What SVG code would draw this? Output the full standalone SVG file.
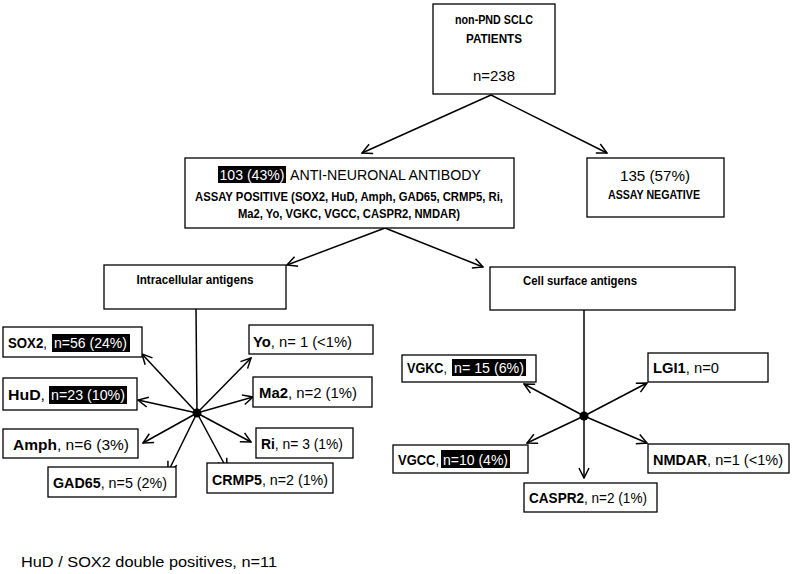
<svg xmlns="http://www.w3.org/2000/svg" width="794" height="574" viewBox="0 0 794 574">
<defs>
<style>
.box{fill:#fff;stroke:#000;stroke-width:1.3}
.t{font-family:"Liberation Sans",Arial,sans-serif;font-size:15px;fill:#000}
.b{font-weight:bold}
.h{font-size:12.5px;font-weight:bold}
.w{fill:#fff}
.hl{fill:#000}
.c line{stroke:#000;stroke-width:1.5}
.arr{marker-end:url(#ah)}
</style>
<marker id="ah" viewBox="0 0 12 12" refX="11" refY="6" markerWidth="12" markerHeight="12" markerUnits="userSpaceOnUse" orient="auto">
<path d="M1,1 L11,6 L1,11" fill="none" stroke="#000" stroke-width="1.5"/>
</marker>
</defs>
<rect width="794" height="574" fill="#fff"/>

<g class="c" id="connectors">
<line class="arr" x1="491" y1="95" x2="362" y2="153"/>
<line class="arr" x1="491" y1="95" x2="607" y2="153"/>
<line class="arr" x1="385" y1="228" x2="287" y2="265"/>
<line class="arr" x1="385" y1="228" x2="483" y2="267"/>
<line x1="196" y1="309" x2="197" y2="413"/>
<line class="arr" x1="197" y1="413" x2="142" y2="354"/>
<line class="arr" x1="197" y1="413" x2="138" y2="400"/>
<line class="arr" x1="197" y1="413" x2="143" y2="443"/>
<line class="arr" x1="197" y1="413" x2="168" y2="472"/>
<line class="arr" x1="197" y1="413" x2="227" y2="469"/>
<line class="arr" x1="197" y1="413" x2="251" y2="442"/>
<line class="arr" x1="197" y1="413" x2="253" y2="397"/>
<line class="arr" x1="197" y1="413" x2="251" y2="358"/>
<circle cx="197" cy="413" r="4.5" fill="#000"/>
<line class="arr" x1="584" y1="310" x2="584" y2="478"/>
<line class="arr" x1="584" y1="416" x2="524" y2="384"/>
<line class="arr" x1="584" y1="416" x2="647" y2="383"/>
<line class="arr" x1="584" y1="416" x2="527" y2="443"/>
<line class="arr" x1="584" y1="416" x2="647" y2="443"/>
<circle cx="584" cy="416" r="4.5" fill="#000"/>
</g>

<g id="top">
<rect class="box" x="433" y="4" width="122" height="90"/>
<text class="t h" x="494" y="24" text-anchor="middle" textLength="78" lengthAdjust="spacingAndGlyphs">non-PND SCLC</text>
<text class="t h" x="494" y="43" text-anchor="middle" textLength="56" lengthAdjust="spacingAndGlyphs">PATIENTS</text>
<text class="t" x="494" y="81" text-anchor="middle" font-size="15.5" textLength="42" lengthAdjust="spacingAndGlyphs">n=238</text>
</g>

<g id="positive">
<rect class="box" x="185" y="158" width="329" height="70"/>
<rect class="hl" x="218" y="166" width="68" height="17"/>
<text class="t" y="180" font-size="16"><tspan class="w" x="219.5" textLength="65" lengthAdjust="spacingAndGlyphs">103 (43%)</tspan><tspan x="290" textLength="191" lengthAdjust="spacingAndGlyphs">ANTI-NEURONAL ANTIBODY</tspan></text>
<text class="t h" x="349" y="201" text-anchor="middle" textLength="308" lengthAdjust="spacingAndGlyphs">ASSAY POSITIVE (SOX2, HuD, Amph, GAD65, CRMP5, Ri,</text>
<text class="t h" x="349" y="218" text-anchor="middle" textLength="222" lengthAdjust="spacingAndGlyphs">Ma2, Yo, VGKC, VGCC, CASPR2, NMDAR)</text>
</g>

<g id="negative">
<rect class="box" x="587" y="158" width="137" height="59"/>
<text class="t" x="655" y="181" text-anchor="middle" font-size="16" textLength="70" lengthAdjust="spacingAndGlyphs">135 (57%)</text>
<text class="t h" x="654" y="199" text-anchor="middle" textLength="92" lengthAdjust="spacingAndGlyphs">ASSAY NEGATIVE</text>
</g>

<g id="intracellular">
<rect class="box" x="104" y="265" width="182" height="44"/>
<text class="t h" x="195" y="284" text-anchor="middle" textLength="117" lengthAdjust="spacingAndGlyphs">Intracellular antigens</text>
</g>

<g id="cellsurface">
<rect class="box" x="490" y="267" width="245" height="43"/>
<text class="t h" x="580" y="285" text-anchor="middle" textLength="114" lengthAdjust="spacingAndGlyphs">Cell surface antigens</text>
</g>

<g id="sox2">
<rect class="box" x="3" y="327" width="139" height="30"/>
<rect class="hl" x="52" y="334" width="78" height="18"/>
<text class="t" y="348"><tspan x="8" textLength="39" lengthAdjust="spacingAndGlyphs"><tspan class="b">SOX2</tspan>,</tspan><tspan class="w" x="54" textLength="73" lengthAdjust="spacingAndGlyphs">n=56 (24%)</tspan></text>
</g>

<g id="hud">
<rect class="box" x="3" y="378" width="134" height="32"/>
<rect class="hl" x="49" y="386" width="78" height="18"/>
<text class="t" y="400"><tspan x="8" textLength="37" lengthAdjust="spacingAndGlyphs"><tspan class="b">HuD</tspan>,</tspan><tspan class="w" x="51" textLength="74" lengthAdjust="spacingAndGlyphs">n=23 (10%)</tspan></text>
</g>

<g id="amph">
<rect class="box" x="3" y="429" width="135" height="29"/>
<text class="t" x="13" y="450" textLength="116" lengthAdjust="spacingAndGlyphs"><tspan class="b">Amph</tspan>, n=6 (3%)</text>
</g>

<g id="gad65">
<rect class="box" x="48" y="467" width="128" height="30"/>
<text class="t" x="53" y="488" textLength="114" lengthAdjust="spacingAndGlyphs"><tspan class="b">GAD65</tspan>, n=5 (2%)</text>
</g>

<g id="crmp5">
<rect class="box" x="207" y="463" width="126" height="30"/>
<text class="t" x="212" y="485" textLength="116" lengthAdjust="spacingAndGlyphs"><tspan class="b">CRMP5</tspan>, n=2 (1%)</text>
</g>

<g id="ri">
<rect class="box" x="256" y="428" width="97" height="30"/>
<text class="t" x="261" y="449" textLength="82" lengthAdjust="spacingAndGlyphs"><tspan class="b">Ri</tspan>, n= 3 (1%)</text>
</g>

<g id="ma2">
<rect class="box" x="253" y="377" width="119" height="30"/>
<text class="t" x="259" y="398" textLength="98" lengthAdjust="spacingAndGlyphs"><tspan class="b">Ma2</tspan>, n=2 (1%)</text>
</g>

<g id="yo">
<rect class="box" x="249" y="325" width="124" height="29"/>
<text class="t" x="253" y="347" textLength="99" lengthAdjust="spacingAndGlyphs"><tspan class="b">Yo</tspan>, n= 1 (&lt;1%)</text>
</g>

<g id="vgkc">
<rect class="box" x="402" y="355" width="134" height="27"/>
<rect class="hl" x="452" y="359" width="74" height="17"/>
<text class="t" y="373"><tspan x="407" textLength="40" lengthAdjust="spacingAndGlyphs"><tspan class="b">VGKC</tspan>,</tspan><tspan class="w" x="454" textLength="70" lengthAdjust="spacingAndGlyphs">n= 15 (6%)</tspan></text>
</g>

<g id="lgi1">
<rect class="box" x="648" y="353" width="120" height="29"/>
<text class="t" x="653" y="373" textLength="66" lengthAdjust="spacingAndGlyphs"><tspan class="b">LGI1</tspan>, n=0</text>
</g>

<g id="vgcc">
<rect class="box" x="393" y="445" width="135" height="28"/>
<rect class="hl" x="441" y="450" width="69" height="18"/>
<text class="t" y="465"><tspan x="398" textLength="41" lengthAdjust="spacingAndGlyphs"><tspan class="b">VGCC</tspan>,</tspan><tspan class="w" x="443" textLength="65" lengthAdjust="spacingAndGlyphs">n=10 (4%)</tspan></text>
</g>

<g id="nmdar">
<rect class="box" x="648" y="444" width="141" height="29"/>
<text class="t" x="653" y="465" textLength="130" lengthAdjust="spacingAndGlyphs"><tspan class="b">NMDAR</tspan>, n=1 (&lt;1%)</text>
</g>

<g id="caspr2">
<rect class="box" x="524" y="483" width="133" height="29"/>
<text class="t" x="529" y="503" textLength="118" lengthAdjust="spacingAndGlyphs"><tspan class="b">CASPR2</tspan>, n=2 (1%)</text>
</g>

<g id="footer">
<text class="t" x="21" y="567" font-size="16" textLength="256" lengthAdjust="spacingAndGlyphs">HuD / SOX2 double positives, n=11</text>
</g>
</svg>
